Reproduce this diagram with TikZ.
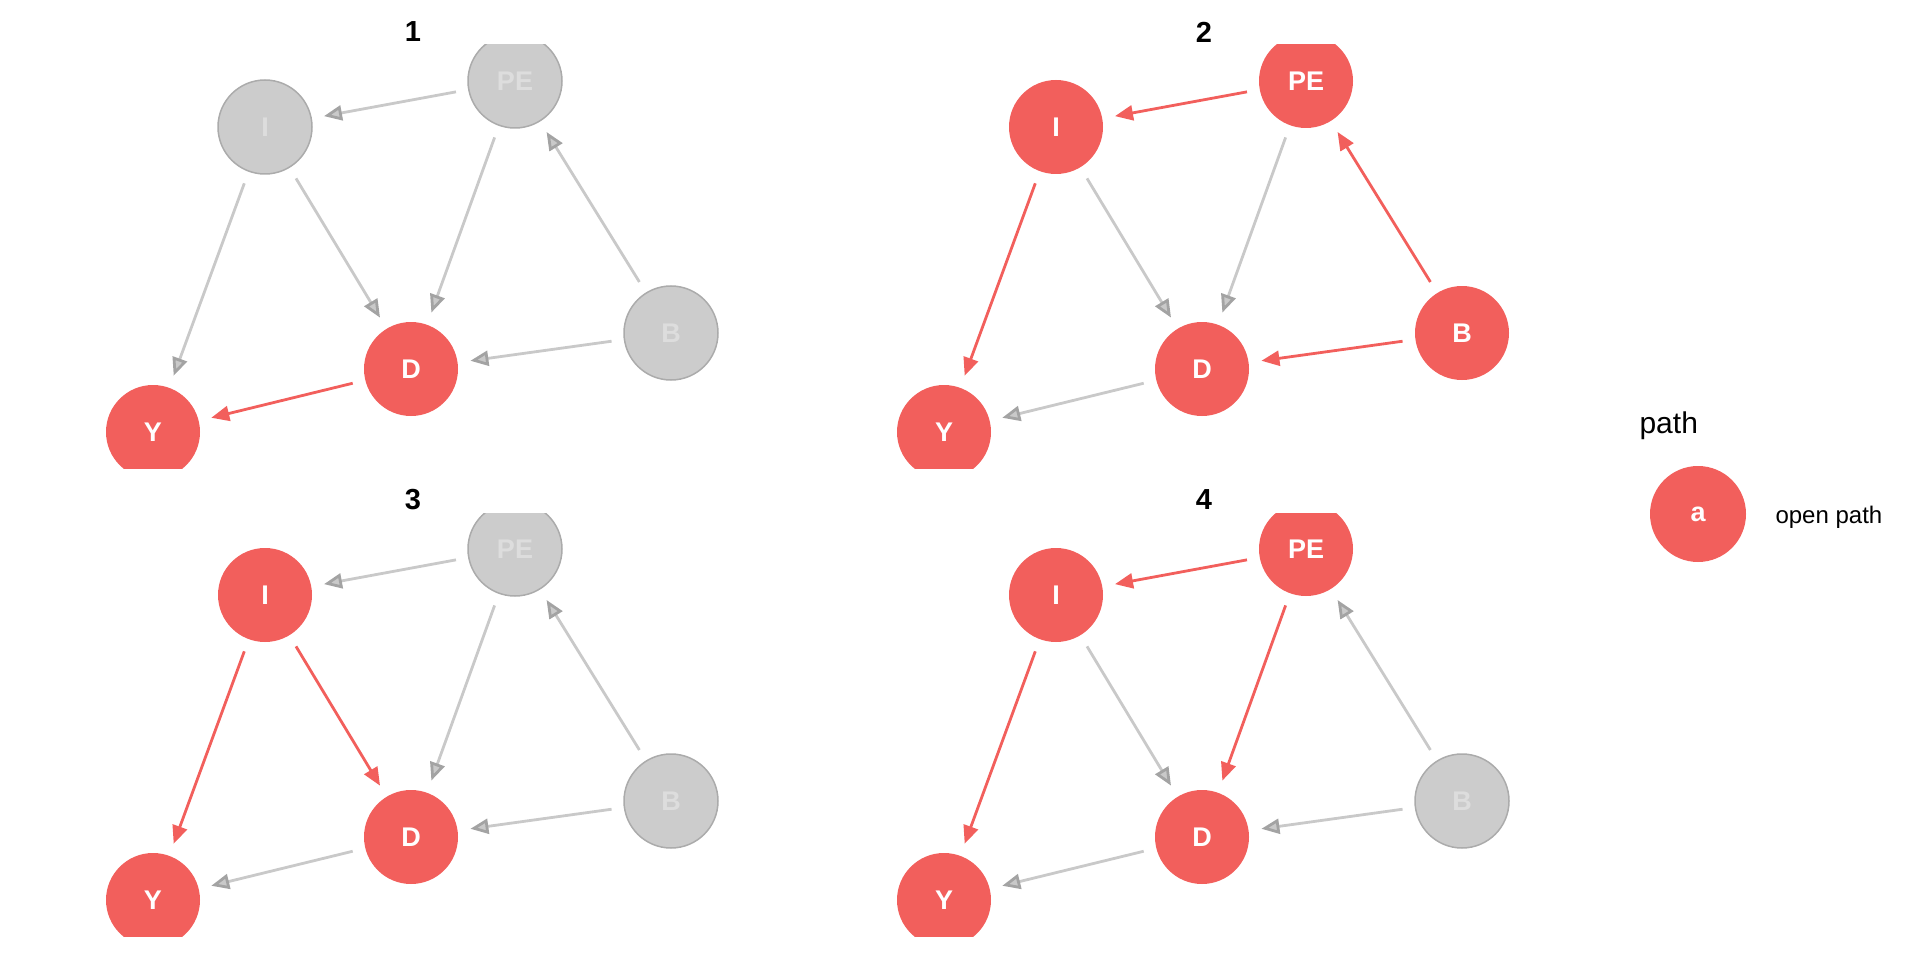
\documentclass[tikz,border=0pt]{standalone}
\usepackage{fontspec}
\setmainfont{Liberation Sans}
\usetikzlibrary{arrows.meta}

\definecolor{openred}{HTML}{F25F5C}
\definecolor{nodegrey}{HTML}{CCCCCC}
\definecolor{rimgrey}{HTML}{ABABAB}
\definecolor{labelgrey}{HTML}{DDDDDD}
\definecolor{edgegrey}{HTML}{C9C9C9}
\definecolor{tipgrey}{HTML}{A3A3A3}

\begin{document}
\begin{tikzpicture}[x=1pt,y=-1pt,
  dag/.style={circle,minimum size=94pt,inner sep=0pt,outer sep=0pt,font=\fontsize{27}{27}\selectfont\bfseries},
  opennode/.style={dag,fill=openred,text=white},
  greynode/.style={dag,fill=nodegrey,draw=rimgrey,line width=1.5pt,text=labelgrey},
  paneltitle/.style={font=\fontsize{29}{29}\selectfont\bfseries},
  openpath/.style={draw=openred,line width=2.8pt,shorten >=13pt,shorten <=13pt,-{Triangle[length=18pt,width=15pt]}},
  greypath/.style={draw=edgegrey,line width=2.8pt,shorten >=13pt,shorten <=13pt,-{Triangle[length=18pt,width=15pt,color=tipgrey,fill=edgegrey]}}]
  \useasboundingbox (0,0) rectangle (1920,960);

  % panel 1
  \node[paneltitle] (title1) at (413,32) {1};
  \begin{scope}
    \clip (95,45) rectangle (735,468);
    \node[greynode] (pe1) at (515,81)  {PE};
    \node[greynode] (i1)  at (265,127) {I};
    \node[opennode] (d1)  at (411,369) {D};
    \node[greynode] (b1)  at (671,333) {B};
    \node[opennode] (y1)  at (153,432) {Y};

    \path
    (pe1) edge[greypath] (i1)
    (i1)  edge[greypath] (y1)
    (i1)  edge[greypath] (d1)
    (pe1) edge[greypath] (d1)
    (b1)  edge[greypath] (pe1)
    (b1)  edge[greypath] (d1)
    (d1)  edge[openpath] (y1)
    ;
  \end{scope}

  % panel 2
  \begin{scope}[shift={(791,0)}]
    \node[paneltitle] (title2) at (413,32) {2};
    \clip (95,45) rectangle (735,468);
    \node[opennode] (pe2) at (515,81)  {PE};
    \node[opennode] (i2)  at (265,127) {I};
    \node[opennode] (d2)  at (411,369) {D};
    \node[opennode] (b2)  at (671,333) {B};
    \node[opennode] (y2)  at (153,432) {Y};

    \path
    (pe2) edge[openpath] (i2)
    (i2)  edge[openpath] (y2)
    (i2)  edge[greypath] (d2)
    (pe2) edge[greypath] (d2)
    (b2)  edge[openpath] (pe2)
    (b2)  edge[openpath] (d2)
    (d2)  edge[greypath] (y2)
    ;
  \end{scope}

  % panel 3
  \begin{scope}[shift={(0,468)}]
    \node[paneltitle] (title3) at (413,32) {3};
    \clip (95,45) rectangle (735,468);
    \node[greynode] (pe3) at (515,81)  {PE};
    \node[opennode] (i3)  at (265,127) {I};
    \node[opennode] (d3)  at (411,369) {D};
    \node[greynode] (b3)  at (671,333) {B};
    \node[opennode] (y3)  at (153,432) {Y};

    \path
    (pe3) edge[greypath] (i3)
    (i3)  edge[openpath] (y3)
    (i3)  edge[openpath] (d3)
    (pe3) edge[greypath] (d3)
    (b3)  edge[greypath] (pe3)
    (b3)  edge[greypath] (d3)
    (d3)  edge[greypath] (y3)
    ;
  \end{scope}

  % panel 4
  \begin{scope}[shift={(791,468)}]
    \node[paneltitle] (title4) at (413,32) {4};
    \clip (95,45) rectangle (735,468);
    \node[opennode] (pe4) at (515,81)  {PE};
    \node[opennode] (i4)  at (265,127) {I};
    \node[opennode] (d4)  at (411,369) {D};
    \node[greynode] (b4)  at (671,333) {B};
    \node[opennode] (y4)  at (153,432) {Y};

    \path
    (pe4) edge[openpath] (i4)
    (i4)  edge[openpath] (y4)
    (i4)  edge[greypath] (d4)
    (pe4) edge[openpath] (d4)
    (b4)  edge[greypath] (pe4)
    (b4)  edge[greypath] (d4)
    (d4)  edge[greypath] (y4)
    ;
  \end{scope}

  % legend
  \node[anchor=base west,font=\fontsize{30}{30}\selectfont] (keytitle) at (1636,433) {path};
  \node[opennode,minimum size=96pt] (key) at (1698,514) {a};
  \node[anchor=base west,font=\fontsize{24}{24}\selectfont] (keylabel) at (1772,523) {open path};
\end{tikzpicture}
\end{document}
